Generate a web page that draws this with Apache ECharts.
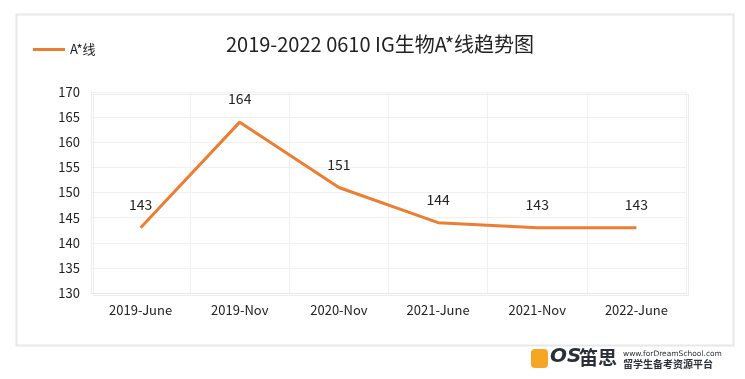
<!DOCTYPE html>
<html>
<head>
<meta charset="utf-8">
<script src="https://cdn.jsdelivr.net/npm/echarts@6/dist/echarts.min.js"></script>
<style>
html,body{margin:0;padding:0;background:#fff;}
#c{width:745px;height:379px;}
</style>
</head>
<body>
<div id="c"></div>
<script>
const titleText = '2019-2022 0610 IG生物A*线趋势图';
const seriesName = 'A*线';
const categories = ['2019-June', '2019-Nov', '2020-Nov', '2021-June', '2021-Nov', '2022-June'];
const values = [143, 164, 151, 144, 143, 143];
const yMin = 130, yMax = 170, yStep = 5;

const FONT = '"Noto Sans CJK SC", "Noto Sans", sans-serif';
const chart = echarts.init(document.getElementById('c'));
chart.setOption({
  backgroundColor: '#ffffff',
  animation: false,
  textStyle: { fontFamily: FONT },
  title: {
    text: titleText,
    left: 375, top: 29, textAlign: 'center',
    textStyle: { fontSize: 20, fontWeight: 'normal', color: '#222', fontFamily: FONT }
  },
  legend: {
    left: 28, top: 38,
    icon: 'rect', itemWidth: 32, itemHeight: 3, itemGap: 4,
    textStyle: { fontSize: 13, color: '#222', fontFamily: FONT },
    data: [seriesName]
  },
  grid: { left: 91, right: 59, top: 92, bottom: 86, containLabel: false,
    show: true, borderWidth: 0 },
  xAxis: {
    type: 'category', data: categories, boundaryGap: true,
    axisLine: { show: true, lineStyle: { color: '#e6e6e6' } },
    axisTick: { show: false },
    splitLine: { show: true, lineStyle: { color: '#f0f0f0' } },
    axisLabel: { fontSize: 13, color: '#222', margin: 11, fontFamily: FONT }
  },
  yAxis: {
    type: 'value', min: yMin, max: yMax, interval: yStep,
    axisLine: { show: true, lineStyle: { color: '#eeeeee' } },
    axisTick: { show: false },
    splitLine: { show: true, lineStyle: { color: '#f0f0f0' } },
    axisLabel: { fontSize: 13, color: '#222', margin: 11, fontFamily: FONT }
  },
  series: [{
    name: seriesName, type: 'line', data: values,
    symbol: 'circle', symbolSize: 0, showSymbol: true, smooth: false,
    lineStyle: { color: '#ED7D31', width: 3 },
    itemStyle: { color: '#ED7D31' },
    label: { show: true, position: 'top', distance: 16, fontSize: 14, color: '#222', fontFamily: FONT }
  }],
  graphic: [
    { type: 'rect', left: 14, top: 12, z: -10, silent: true,
      shape: { width: 717, height: 331 },
      style: { fill: 'none', stroke: '#e8e8e8', lineWidth: 2 } },
    { type: 'rect', left: 91, top: 92, z: -9, silent: true,
      shape: { width: 595, height: 201 },
      style: { fill: 'none', stroke: '#ececec', lineWidth: 1 } },
    { type: 'rect', left: 531, top: 349, silent: true,
      shape: { width: 17, height: 19, r: 4 },
      style: { fill: '#F5A623' } },
    { type: 'text', left: 550, top: 347, silent: true,
      style: { text: 'OS', fontSize: 20, fontWeight: 'bold', fill: '#2b2f3a', fontFamily: 'Verdana, "DejaVu Sans", sans-serif', fontStyle: 'italic' } },
    { type: 'text', left: 579, top: 348, silent: true,
      style: { text: '笛思', fontSize: 19, fontWeight: 'bold', fill: '#2b2f3a', fontFamily: FONT } },
    { type: 'text', left: 623, top: 350, silent: true,
      style: { text: 'www.forDreamSchool.com', fontSize: 7.5, fill: '#2b2f3a', fontFamily: '"DejaVu Sans", sans-serif' } },
    { type: 'text', left: 623, top: 359, silent: true,
      style: { text: '留学生备考资源平台', fontSize: 10, fontWeight: 'bold', fill: '#2b2f3a', fontFamily: FONT } }
  ]
});
</script>
</body>
</html>
